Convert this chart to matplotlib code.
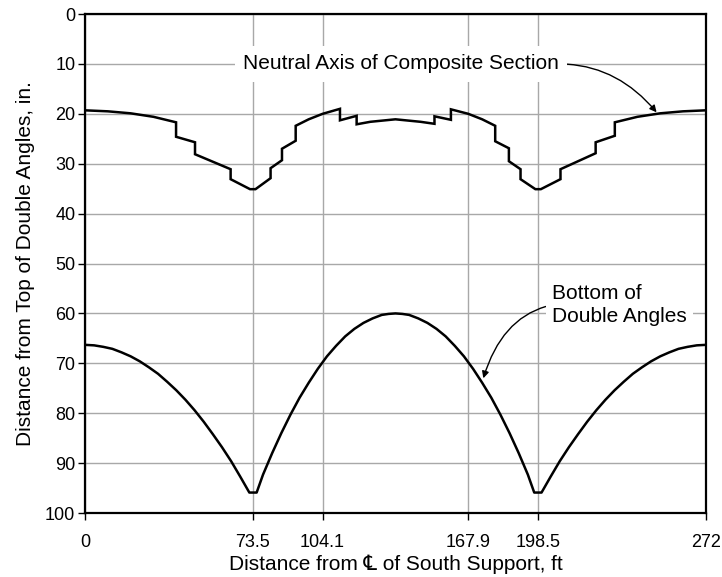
import matplotlib
matplotlib.use("Agg")
import matplotlib.pyplot as plt

plt.rcParams['font.family'] = ['Liberation Sans', 'DejaVu Sans']

# neutral axis of composite section (distance from top of double angles, in.)
na_x = [0, 10, 20, 30, 39.9, 39.9, 48.2, 48.2, 63.8, 63.8, 72.3, 74.7,
        81.3, 81.3, 86.3, 86.3, 92.3, 92.3, 98, 104.1, 111.7, 111.7, 119.0, 119.0,
        125, 136, 147, 153.1, 153.1, 160.3, 160.3, 167.9, 174, 179.7, 179.7,
        185.7, 185.7, 190.8, 190.8, 197.3, 199.7, 208.3, 208.3, 223.7, 223.7,
        232.1, 232.1, 242, 252, 262, 272]
na_y = [19.3, 19.5, 19.9, 20.6, 21.7, 24.6, 25.7, 28.1, 31.1, 33.1, 35.1, 35.1,
        32.9, 30.9, 29.3, 27.0, 25.4, 22.4, 21.1, 20.0, 19.0, 21.3, 20.4, 22.1,
        21.6, 21.1, 21.6, 22.0, 20.5, 21.2, 19.1, 20.0, 21.1, 22.4, 25.5,
        26.9, 29.5, 31.1, 33.1, 35.1, 35.1, 33.1, 31.1, 27.9, 25.7,
        24.4, 21.7, 20.6, 19.9, 19.5, 19.3]

# bottom of double angles
bot_x = [0, 4, 8, 12, 16, 20, 24, 28, 32, 36, 40, 44, 48, 52, 56, 60, 64, 68, 72,
         75.2, 78, 82, 86, 90, 94, 98, 102, 106, 110, 114, 118, 122, 126, 130, 133,
         136, 139, 142, 146, 150, 154, 158, 162, 166, 170, 174, 178, 182, 186, 190,
         194, 196.8,
         200, 204, 208, 212, 216, 220, 224, 228, 232, 236, 240, 244, 248, 252, 256,
         260, 264, 268, 272]
bot_y = [66.3, 66.4, 66.7, 67.1, 67.8, 68.6, 69.6, 70.8, 72.1, 73.7, 75.4, 77.3, 79.4,
         81.7, 84.2, 86.8, 89.6, 92.7, 95.9,
         95.9, 92.3, 88.0, 84.0, 80.3, 76.9, 73.9, 71.1, 68.6, 66.5, 64.6, 63.1, 61.9,
         61.0, 60.3, 60.1, 60.0, 60.1, 60.3, 61.0, 61.9, 63.1, 64.6, 66.5, 68.6, 71.1,
         73.9, 76.9, 80.3, 84.0, 88.0, 92.3, 95.9,
         95.9, 92.7, 89.6, 86.8, 84.2, 81.7, 79.4, 77.3, 75.4, 73.7, 72.1, 70.8, 69.6,
         68.6, 67.8, 67.1, 66.7, 66.4, 66.3]

x_ticks = [0, 73.5, 104.1, 167.9, 198.5, 272]
x_labels = ['0', '73.5', '104.1', '167.9', '198.5', '272']
y_ticks = list(range(0, 101, 10))

fig = plt.figure(figsize=(7.22, 5.77), dpi=100)
ax = fig.add_axes([0.1177, 0.1109, 0.86, 0.8648])

ax.plot(na_x, na_y, color='black', lw=1.8, solid_joinstyle='miter')
ax.plot(bot_x, bot_y, color='black', lw=1.8)

ax.set_xlim(0, 272)
ax.set_ylim(100, 0)
ax.set_xticks(x_ticks)
ax.set_xticklabels(x_labels)
ax.set_yticks(y_ticks)
ax.tick_params(axis='both', labelsize=13, direction='out', length=5, width=1, colors='black')
ax.tick_params(axis='x', pad=10)
ax.tick_params(axis='y', pad=2)
ax.grid(True, color='#a8a8a8', lw=1)
ax.set_axisbelow(True)
for s in ax.spines.values():
    s.set_linewidth(1.6)

ax.set_xlabel('Distance from \u2104 of South Support, ft', fontsize=15, labelpad=3)
ax.set_ylabel('Distance from Top of Double Angles, in.', fontsize=15, labelpad=7)

box = dict(boxstyle='square,pad=0.4', fc='white', ec='none')
ax.annotate('Neutral Axis of Composite Section', xy=(250.4, 19.7), xytext=(207.6, 10),
            ha='right', va='center', fontsize=15, bbox=box,
            arrowprops=dict(arrowstyle='-|>', color='black', lw=1, mutation_scale=10,
                            connectionstyle='angle3,angleA=0,angleB=-50',
                            relpos=(1, 0.5), shrinkA=0, shrinkB=0))
ax.annotate('Bottom of\nDouble Angles', xy=(174.5, 73.0), xytext=(204.6, 58.3),
            ha='left', va='center', fontsize=15, bbox=dict(boxstyle='square,pad=0.3',
            fc='white', ec='none'), linespacing=1.25,
            arrowprops=dict(arrowstyle='-|>', color='black', lw=1, mutation_scale=10,
                            connectionstyle='angle3,angleA=12,angleB=73',
                            relpos=(0, 0.5), shrinkA=0, shrinkB=0))

fig.savefig('out.png', dpi=100)
